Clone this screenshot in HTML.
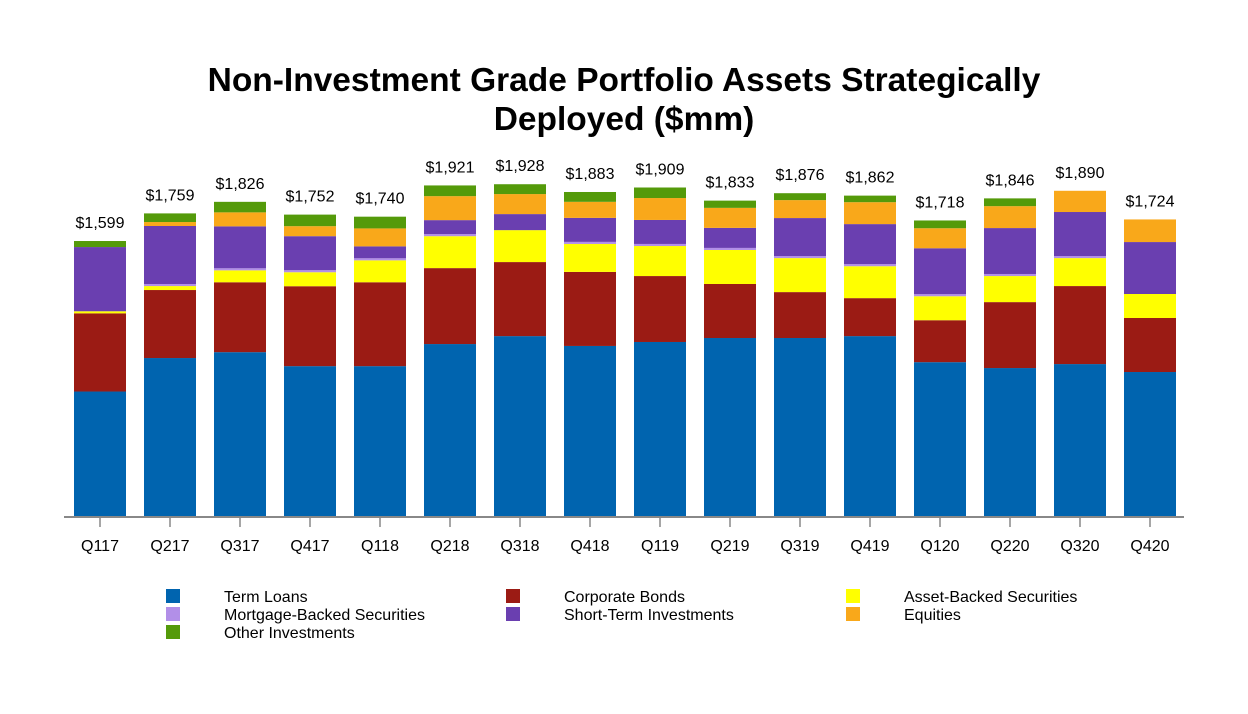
<!DOCTYPE html>
<html><head><meta charset="utf-8"><style>
body{margin:0;background:#fff;}
svg{display:block;font-family:"Liberation Sans",Arial,sans-serif;}
</style></head><body>
<svg id="chart" width="1248" height="714" viewBox="0 0 1248 714">
<text x="624" y="91" text-anchor="middle" font-size="33.5" font-weight="bold">Non-Investment Grade Portfolio Assets Strategically</text>
<text x="624" y="130" text-anchor="middle" font-size="33.5" font-weight="bold">Deployed ($mm)</text>
<g id="bars"></g>
<line x1="64" y1="517" x2="1184" y2="517" stroke="#888" stroke-width="2"/>
<g id="xaxis"></g>
<g id="legend"></g>
</svg>
<script>
const categories=["Q117","Q217","Q317","Q417","Q118","Q218","Q318","Q418","Q119","Q219","Q319","Q419","Q120","Q220","Q320","Q420"];
const totals=[1599,1759,1826,1752,1740,1921,1928,1883,1909,1833,1876,1862,1718,1846,1890,1724];
const termLoans=[727,921,955,874,874,1002,1048,991,1014,1037,1037,1048,897,863,886,840];
const corporateBonds=[453,394,405,463,486,440,429,429,382,313,266,220,243,382,452,313];
const assetBacked=[12,23,69,81,127,185,185,162,174,197,197,185,139,151,162,139];
const mortgageBacked=[0,12,12,12,12,12,0,12,12,12,12,12,12,12,12,0];
const shortTerm=[372,336,243,197,69,81,93,139,139,116,220,232,266,266,255,301];
const equities=[0,23,81,58,104,139,116,93,127,116,104,127,116,127,123,131];
const otherInv=[35,50,61,67,68,62,57,57,61,42,40,38,45,45,0,0];
const seriesNames=["Term Loans","Corporate Bonds","Asset-Backed Securities","Mortgage-Backed Securities","Short-Term Investments","Equities","Other Investments"];
const seriesColors=["#0064AF","#9B1B14","#FFFF00","#B28FE8","#6A3FB0","#F9A81A","#549A0A"];
const seriesData=[termLoans,corporateBonds,assetBacked,mortgageBacked,shortTerm,equities,otherInv];
const NS="http://www.w3.org/2000/svg";
const baseY=517,scale=0.1726,x0=100,step=70,bw=52;
const yPos=v=>baseY-v*scale;
const xPos=i=>x0+i*step;
const bars=document.getElementById('bars'),xa=document.getElementById('xaxis'),lg=document.getElementById('legend');
function mk(t,a,p){const e=document.createElementNS(NS,t);for(const k in a)e.setAttribute(k,a[k]);p.appendChild(e);return e;}
categories.forEach((c,i)=>{
  let cum=0;
  seriesData.forEach((s,si)=>{
    const v=s[i]; if(v<=0)return;
    const r=mk('rect',{x:xPos(i)-bw/2,y:yPos(cum+v),width:bw,height:v*scale,fill:seriesColors[si]},bars);
    
    
    cum+=v;
  });
  const tl=mk('text',{x:xPos(i),y:yPos(totals[i])-13,'text-anchor':'middle','font-size':16},bars);
  tl.textContent='$'+totals[i].toLocaleString('en-US');
  
  
  const tk=mk('line',{x1:xPos(i),x2:xPos(i),y1:518,y2:527,stroke:'#888','stroke-width':1.5},xa);
  
  
  const lb=mk('text',{x:xPos(i),y:551,'text-anchor':'middle','font-size':16},xa);
  lb.textContent=c;
  
  
});
seriesNames.forEach((n,i)=>{
  const col=i%3,row=Math.floor(i/3);
  const lx=166+col*340,ly=589+row*18;
  const g=mk('g',{},lg);
  
  
  mk('rect',{x:lx,y:ly,width:14,height:14,fill:seriesColors[i]},g);
  const t=mk('text',{x:lx+58,y:ly+13,'font-size':16},g);
  t.textContent=n;
});
</script>
</body></html>
